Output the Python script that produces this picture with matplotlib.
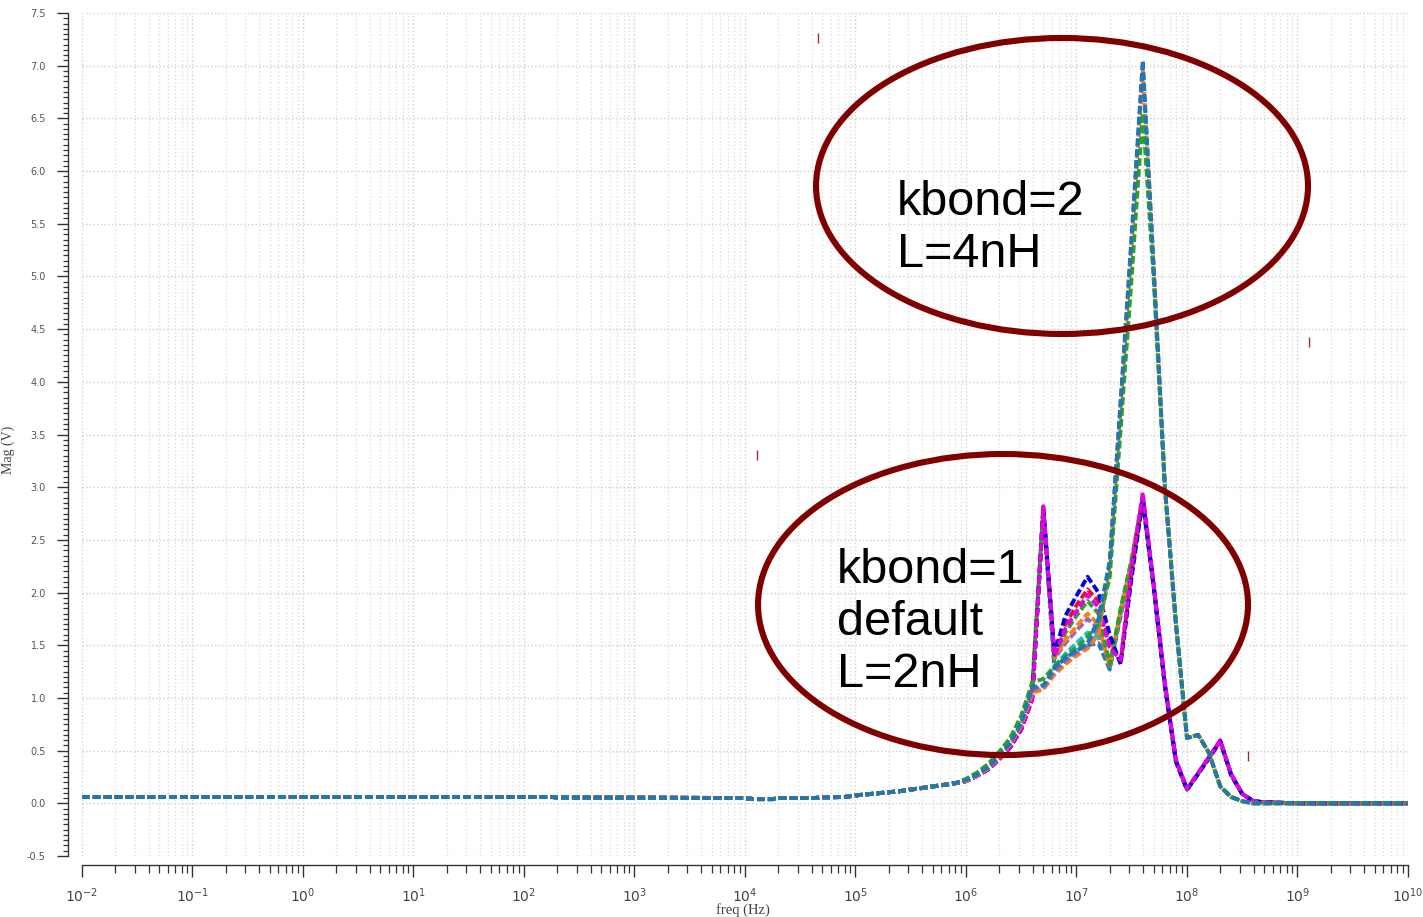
import numpy as np
import matplotlib
matplotlib.use('Agg')
import matplotlib.pyplot as plt
from matplotlib.patches import Ellipse
from matplotlib.ticker import LogLocator, MultipleLocator, FormatStrFormatter, LogFormatterMathtext, NullFormatter

plt.rcParams['mathtext.fontset'] = 'stix'

# sweep points below 1 MHz, identical for every run
f_low = [1e-2, 1.8e2, 2e2, 1e4, 1.2e4, 1.8e4, 2e4, 4.3e4, 5e4, 8e4,
         1e5, 1.26e5, 1.58e5, 2e5, 2.51e5, 3.16e5, 3.98e5, 5.01e5, 6.31e5, 7.94e5]
mag_low = [0.06, 0.06, 0.055, 0.05, 0.04, 0.04, 0.05, 0.05, 0.057, 0.06,
           0.075, 0.085, 0.095, 0.105, 0.115, 0.13, 0.145, 0.16, 0.175, 0.19]

# sweep points from 1 MHz up
f_high = [1e6, 1.26e6, 1.58e6, 2e6, 2.51e6, 3.16e6, 3.98e6, 5.01e6, 6.31e6, 7.94e6,
          1e7, 1.26e7, 1.58e7, 2e7, 2.51e7, 3.16e7, 3.98e7, 5.01e7, 6.31e7, 7.94e7,
          1e8, 1.26e8, 1.58e8, 2e8, 2.51e8, 3.16e8, 3.98e8, 5.01e8, 1e9, 1e10]

tail_k1 = [2.05, 1.12, 0.40, 0.13, 0.28, 0.43, 0.59, 0.27, 0.09, 0.02, 0.01, 0.0, 0.0]
tail_k2 = [0.62, 0.65, 0.48, 0.16, 0.06, 0.02, 0.0, 0.0, 0.0, 0.0]

# kbond=1, L=2nH runs
k1_teal   = [0.21, 0.26, 0.33, 0.43, 0.55, 0.73, 1.05, 2.78, 1.30, 1.42, 1.52, 1.62, 1.58, 1.28, 1.80, 2.28, 2.86] + tail_k1
k1_lowblu = [0.21, 0.26, 0.32, 0.42, 0.54, 0.71, 1.02, 2.78, 1.28, 1.38, 1.45, 1.50, 1.52, 1.27, 1.78, 2.26, 2.86] + tail_k1
k1_purple = [0.21, 0.26, 0.33, 0.43, 0.55, 0.72, 1.03, 2.79, 1.37, 1.52, 1.64, 1.75, 1.66, 1.30, 1.82, 2.30, 2.88] + tail_k1
k1_orange = [0.22, 0.27, 0.34, 0.44, 0.56, 0.74, 1.06, 2.79, 1.38, 1.55, 1.68, 1.80, 1.70, 1.30, 1.83, 2.30, 2.88] + tail_k1
k1_green  = [0.23, 0.29, 0.37, 0.48, 0.61, 0.82, 1.13, 2.80, 1.40, 1.62, 1.78, 1.92, 1.80, 1.32, 1.85, 2.32, 2.90] + tail_k1
k1_red    = [0.21, 0.26, 0.32, 0.42, 0.53, 0.70, 1.00, 2.80, 1.42, 1.70, 1.88, 2.03, 1.92, 1.52, 1.34, 2.20, 2.90] + tail_k1
k1_blue   = [0.21, 0.26, 0.32, 0.42, 0.53, 0.70, 1.00, 2.80, 1.42, 1.78, 1.97, 2.15, 2.00, 1.60, 1.32, 2.15, 2.88] + tail_k1
k1_magenta = [0.21, 0.26, 0.32, 0.42, 0.53, 0.70, 0.98, 2.82, 1.40, 1.66, 1.82, 1.98, 1.86, 1.48, 1.36, 2.25, 2.95,
              2.07, 1.15, 0.42, 0.14, 0.29, 0.44, 0.60, 0.28, 0.09, 0.02, 0.01, 0.0, 0.0]

# kbond=2, L=4nH runs
k2_orange = [0.21, 0.26, 0.33, 0.44, 0.56, 0.74, 1.05, 1.08, 1.22, 1.32, 1.40, 1.47, 1.60, 2.25, 3.75, 5.30, 6.95,
             5.05, 3.00, 1.70] + tail_k2
k2_purple = [0.22, 0.27, 0.34, 0.45, 0.57, 0.76, 1.08, 1.10, 1.25, 1.35, 1.43, 1.50, 1.68, 2.28, 3.80, 5.35, 7.00,
             5.05, 3.00, 1.70] + tail_k2
k2_green  = [0.23, 0.29, 0.37, 0.49, 0.62, 0.83, 1.15, 1.18, 1.30, 1.40, 1.48, 1.58, 1.70, 2.15, 3.55, 5.00, 6.55,
             4.95, 3.00, 1.72] + tail_k2
k2_blue   = [0.22, 0.27, 0.34, 0.45, 0.57, 0.76, 1.10, 1.12, 1.28, 1.38, 1.45, 1.52, 1.75, 2.30, 3.82, 5.40, 7.05,
             5.05, 3.00, 1.70] + tail_k2

runs = [
    (k1_teal, '#17becf'), (k1_lowblu, '#1f77b4'), (k1_purple, '#9467bd'), (k1_orange, '#ff7f0e'),
    (k1_green, '#2ca02c'), (k1_red, '#e6102e'), (k1_blue, '#0000e0'), (k1_magenta, '#e600e6'),
    (k2_orange, '#ff7f0e'), (k2_purple, '#9467bd'), (k2_green, '#2ca02c'), (k2_blue, '#1f77b4'),
]

# stray cursor marks left on the plot
mark_f = [4.6e4, 1.28e4, 1.27e9, 3.56e8]
mark_v = [7.26, 3.31, 4.38, 0.45]

fig = plt.figure(figsize=(14.23, 9.17), dpi=100)
ax = fig.add_axes([0.05762, 0.06652, 0.93183, 0.91930])

for vals, col in runs:
    f = np.array(f_low + f_high)
    m = np.array(mag_low + vals)
    ax.plot(f, m, color=col, lw=2.8, ls=(0, (2.0, 0.8)), solid_capstyle='butt')

ax.plot(mark_f, mark_v, ls='none', marker='|', ms=7, mew=1.0, color='#a03030')

ax.set_xscale('log')
ax.set_xlim(1e-2, 1e10)
ax.set_ylim(-0.5, 7.5)

ax.xaxis.set_major_locator(LogLocator(base=10, numticks=20))
ax.xaxis.set_minor_locator(LogLocator(base=10, subs=np.arange(2, 10), numticks=20))
ax.xaxis.set_major_formatter(LogFormatterMathtext())
ax.xaxis.set_minor_formatter(NullFormatter())
ax.yaxis.set_major_locator(MultipleLocator(0.5))
ax.yaxis.set_minor_locator(MultipleLocator(0.05))
ax.yaxis.set_major_formatter(FormatStrFormatter('%.1f'))

ax.grid(which='major', axis='both', ls=':', lw=1.0, color='#cfcfcf')
ax.grid(which='minor', axis='x', ls=':', lw=1.0, color='#dedede')

for s in ['top', 'right']:
    ax.spines[s].set_visible(False)
ax.spines['left'].set_position(('outward', 10))
ax.spines['bottom'].set_position(('outward', 6.5))
for s in ['left', 'bottom']:
    ax.spines[s].set_color('#333333')
    ax.spines[s].set_linewidth(1.0)

ax.tick_params(axis='y', which='major', direction='out', length=8, width=1.0, color='#333333',
               labelsize=7, labelcolor='#555555', pad=8)
ax.tick_params(axis='y', which='minor', direction='out', length=3.5, width=0.9, color='#333333')
ax.tick_params(axis='x', which='major', direction='out', length=8.5, width=1.0, color='#333333',
               labelsize=10, labelcolor='#444444', pad=7)
ax.tick_params(axis='x', which='minor', direction='out', length=5.5, width=0.9, color='#333333')

ax.set_xlabel('freq (Hz)', family='Liberation Serif', fontsize=10.5, color='#444444')
ax.set_ylabel('Mag (V)', family='Liberation Serif', fontsize=10, color='#444444')
ax.xaxis.set_label_coords(0.4985, -0.0558)
ax.yaxis.set_label_coords(-0.0505, 0.4816)

# circled groups
e1 = Ellipse((0.7391, 0.7948), 0.3710, 0.3511, transform=ax.transAxes, fill=False,
             edgecolor='#800000', lw=4.4, clip_on=False, zorder=5)
e2 = Ellipse((0.6946, 0.2983), 0.3695, 0.3571, transform=ax.transAxes, fill=False,
             edgecolor='#800000', lw=4.4, clip_on=False, zorder=5)
ax.add_patch(e1)
ax.add_patch(e2)

# va='baseline' pins the last line of each block
ax.text(0.6146, 0.6987, 'kbond=2\nL=4nH', transform=ax.transAxes, family='Liberation Sans',
        fontsize=35, va='baseline', ha='left', linespacing=1.2, zorder=6)
ax.text(0.5694, 0.2005, 'kbond=1\ndefault\nL=2nH', transform=ax.transAxes, family='Liberation Sans',
        fontsize=35, va='baseline', ha='left', linespacing=1.2, zorder=6)

fig.savefig('out.png', dpi=100)
